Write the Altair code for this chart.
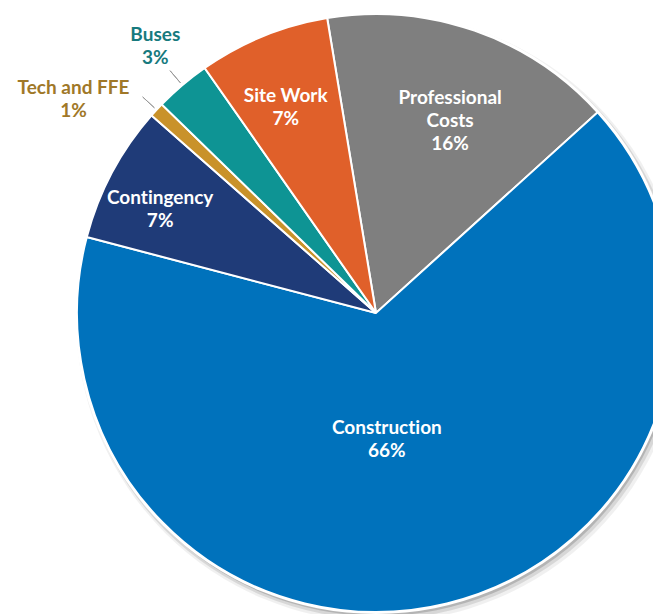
import math
import altair as alt
import pandas as pd

# ---- data ----
categories = ["Professional Costs", "Construction", "Contingency", "Tech and FFE", "Buses", "Site Work"]
label_names = ["Professional\nCosts", "Construction", "Contingency", "Tech and FFE", "Buses", "Site Work"]
shares = [15.9, 65.8, 7.4, 0.8, 3.0, 7.1]
slice_colors = ["#7F7F7F", "#0072BC", "#1F3B78", "#C9922A", "#0E9494", "#E0602A"]
label_colors = ["#FFFFFF", "#FFFFFF", "#FFFFFF", "#A07828", "#177A7E", "#FFFFFF"]

# zero-width non-joiner keeps Lato from drawing the "ti" ligature
shown_names = [n.replace("ti", "t\u200ci") for n in label_names]

df = pd.DataFrame({"cat": categories, "name": shown_names, "share": shares,
                   "order": list(range(len(categories)))})

a0 = math.radians(-9.4)
theta_scale = alt.Scale(domain=[0, 100], range=[a0, a0 + 2 * math.pi])
CX, CY, R = 368, 305, 299
LH = 23

base = alt.Chart(df).transform_window(
    cum="sum(share)", sort=[alt.SortField("order")], frame=[None, 0]
).transform_calculate(
    start="datum.cum - datum.share",
    mid="datum.cum - datum.share / 2",
    txt="datum.name + '\\n' + format(datum.share / 100, '.0%')",
)

one = alt.Chart(pd.DataFrame({"k": [0]}))

shadows = []
for (dxs, dys, rr, op) in [(4, 5, 304, 0.06), (3, 4, 302, 0.10), (2, 3, 300, 0.16)]:
    shadows.append(one.mark_arc(theta=0, theta2=2 * math.pi, radius=rr, color="#000000",
                                opacity=op).encode(x=alt.value(CX + dxs), y=alt.value(CY + dys)))

ring = one.mark_arc(theta=0, theta2=2 * math.pi, radius=R + 2, color="#FFFFFF").encode(
    x=alt.value(CX), y=alt.value(CY))

slices = base.mark_arc(radius=R, stroke="#FFFFFF", strokeWidth=2).encode(
    theta=alt.Theta("start:Q", scale=theta_scale),
    theta2="cum:Q",
    color=alt.Color("cat:N", scale=alt.Scale(domain=categories, range=slice_colors), legend=None),
    x=alt.value(CX), y=alt.value(CY),
)

leaders = base.transform_filter(
    alt.FieldOneOfPredicate(field="cat", oneOf=["Tech and FFE", "Buses"])
).mark_arc(radius=R + 3, radius2=R + 19, stroke="#9A9A9A", strokeWidth=1, fillOpacity=0).encode(
    theta=alt.Theta("mid:Q", scale=theta_scale),
    theta2="mid:Q",
    x=alt.value(CX), y=alt.value(CY),
)

# (radius, dx, dy, number of text lines, font size)
label_pos = {
    "Professional Costs": (207, 6, 3, 3, 19),
    "Construction": (130, -20, 0, 2, 19),
    "Contingency": (240, -4, 9, 2, 19),
    "Tech and FFE": (340, -53, 18, 2, 19),
    "Buses": (347, 4, -2, 2, 19),
    "Site Work": (226, -5, 4, 2, 19),
}

texts = []
for cat, col in zip(categories, label_colors):
    r, dx, dy, n, fs = label_pos[cat]
    texts.append(
        base.transform_filter(alt.datum.cat == cat).mark_text(
            radius=r, dx=dx, dy=dy - (n - 1) * LH / 2, font="Lato", fontSize=fs, fontWeight="bold",
            color=col, lineBreak="\n", lineHeight=LH, align="center", baseline="middle",
        ).encode(
            theta=alt.Theta("mid:Q", scale=theta_scale),
            text="txt:N",
            x=alt.value(CX), y=alt.value(CY),
        )
    )

chart = alt.layer(*shadows, ring, slices, leaders, *texts).properties(
    width=645, height=606, padding=0, autosize=alt.AutoSizeParams(type="none")
).configure_view(stroke=None)

chart.save("out.html", embed_options={"renderer": "svg", "actions": False})
